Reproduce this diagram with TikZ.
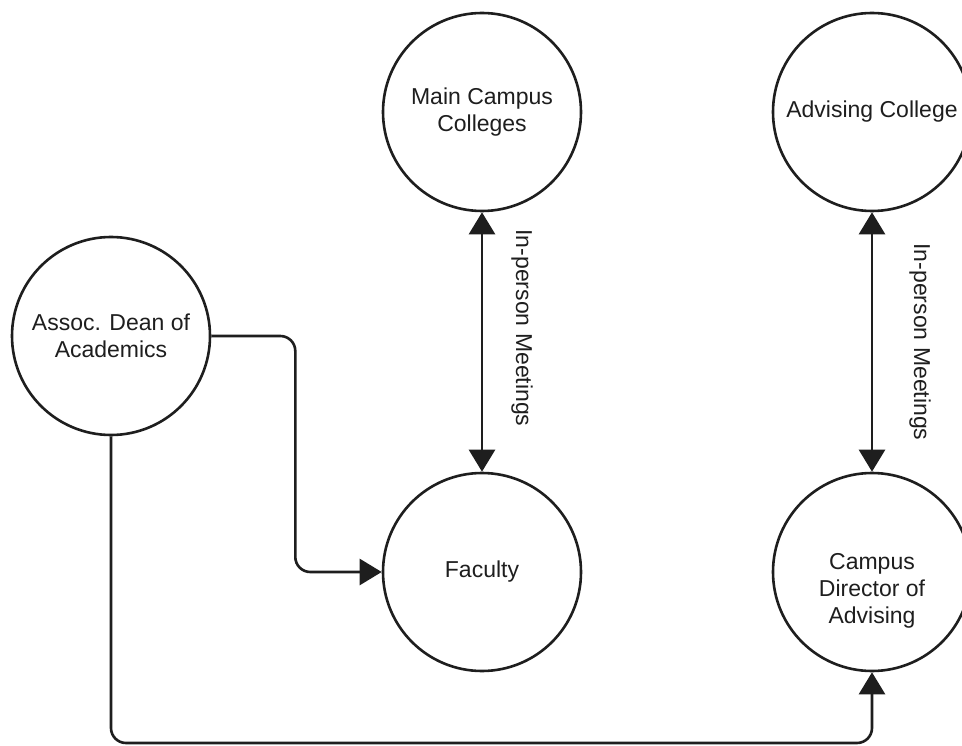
\documentclass[tikz,border=0pt]{standalone}
\usepackage{fontspec}
\setmainfont{Liberation Sans}
\usetikzlibrary{arrows.meta}
\definecolor{ink}{HTML}{1E1E1E}
\tikzset{
  x=1pt, y=-1pt,
  roundnode/.style={circle, draw=ink, line width=2.6pt, minimum size=198pt,
    inner sep=0pt, align=center, text=ink,
    font=\fontsize{23}{27}\selectfont},
  plaintext/.style={text=ink, align=center, inner sep=0pt,
    font=\fontsize{23}{27}\selectfont},
  conn/.style={draw=ink, line width=2.6pt, rounded corners=15pt},
  tip/.tip={Triangle[width=26pt,length=22pt]}
}
\begin{document}
\begin{tikzpicture}
\useasboundingbox (0,0) rectangle (962,746);
\clip (0,0) rectangle (962,746);
\fill[white] (0,0) rectangle (962,746);

% people and groups
\node[roundnode] (mcc)  at (482,112) {Main Campus\\Colleges};
\node[roundnode] (adv)  at (872,112) {Advising College};
\node[roundnode] (dean) at (111,336) {Assoc. Dean of\\Academics};
\node[roundnode] (fac)  at (482,572) {Faculty};
\node[roundnode] (cda)  at (872,572) {};
\node[plaintext] (cdatext) at (872,591) {Campus\\Director of\\Advising};

% in-person meeting links
\draw[conn, tip-tip] (mcc.south) -- (fac.north);
\draw[conn, tip-tip] (adv.south) -- (cda.north);
\node[plaintext, rotate=-90] (meet1) at (522,328) {In-person Meetings};
\node[plaintext, rotate=-90] (meet2) at (920,342) {In-person Meetings};

% reporting lines from the dean
\draw[conn, -tip] (dean.east) -- ++(84,0) |- (fac.west);
\coordinate (low) at (0,743);
\draw[conn, -tip] (dean.south) -- (dean.south |- low) -| (cda.south);
\end{tikzpicture}
\end{document}
